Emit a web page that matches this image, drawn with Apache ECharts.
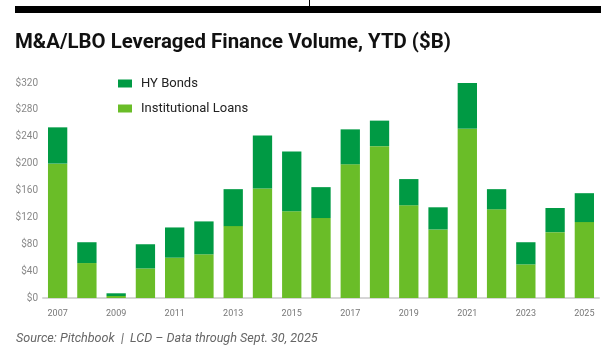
<!DOCTYPE html>
<html>
<head>
<meta charset="utf-8">
<script src="https://cdn.jsdelivr.net/npm/echarts@6/dist/echarts.min.js"></script>
<style>
html,body{margin:0;padding:0;background:#fff;}
#c{width:616px;height:356px;}
</style>
</head>
<body>
<div id="c"></div>
<script>
const years = ['2007','2008','2009','2010','2011','2012','2013','2014','2015','2016','2017','2018','2019','2020','2021','2022','2023','2024','2025'];
const institutionalLoans = [200, 52, 3, 44, 60, 65, 107, 163, 129, 119, 199, 226, 138, 102, 252, 132, 50, 98, 113];
const hyBonds = [54, 31, 4, 36, 45, 49, 55, 79, 89, 46, 52, 38, 39, 33, 69, 30, 33, 36, 43];
const yTicks = ['$0','$40','$80','$120','$160','$200','$240','$280','$320'];

const chart = echarts.init(document.getElementById('c'), null, {renderer:'canvas'});
chart.setOption({
  animation: false,
  backgroundColor: '#fff',
  title: {
    text: 'M&A/LBO Leveraged Finance Volume, YTD ($B)',
    left: 15, top: 33, padding: 0,
    textStyle: {fontFamily: 'Roboto', fontWeight: 'bold', fontSize: 20.4, color: '#111'}
  },
  legend: {
    orient: 'vertical',
    left: 118, top: 77, padding: 0,
    itemWidth: 14, itemHeight: 8, itemGap: 12,
    icon: 'rect',
    data: ['HY Bonds', 'Institutional Loans'],
    textStyle: {fontFamily: 'Roboto', fontSize: 13, color: '#222', padding: [0,0,0,4]}
  },
  grid: {left: 43, right: 17, top: 83, bottom: 58, containLabel: false},
  xAxis: {
    type: 'category',
    data: years,
    axisLine: {lineStyle: {color: '#d6d6d6', width: 2}},
    axisTick: {show: false},
    axisLabel: {interval: 1, color: '#777', fontFamily: 'Roboto', fontSize: 9, margin: 11}
  },
  yAxis: {
    type: 'value',
    min: 0, max: 320, interval: 40,
    axisLine: {show: false},
    axisTick: {show: false},
    splitLine: {show: false},
    axisLabel: {
      color: '#888', fontFamily: 'Roboto', fontSize: 10, margin: 5,
      formatter: function (v) { return yTicks[Math.round(v / 40)]; }
    }
  },
  series: [
    {name: 'Institutional Loans', type: 'bar', stack: 'total', data: institutionalLoans,
     barWidth: '66%', itemStyle: {color: '#6abd28'}},
    {name: 'HY Bonds', type: 'bar', stack: 'total', data: hyBonds,
     barWidth: '66%', itemStyle: {color: '#009a44'}}
  ],
  graphic: [
    {type: 'rect', shape: {x: 15, y: 6, width: 586, height: 7}, style: {fill: '#000'}},
    {type: 'rect', shape: {x: 309, y: 0, width: 1, height: 6}, style: {fill: '#000'}},
    {type: 'text', left: 16, top: 332,
     style: {text: 'Source: Pitchbook  |  LCD – Data through Sept. 30, 2025', fill: '#666',
             font: 'italic 12.6px Roboto'}}
  ]
});
</script>
</body>
</html>
